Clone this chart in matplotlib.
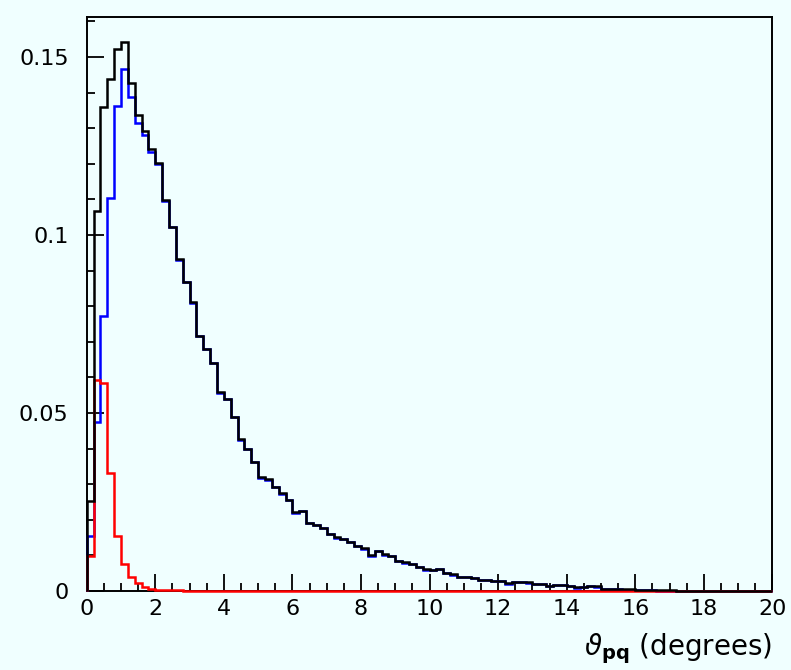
import numpy as np
import matplotlib.pyplot as plt
from matplotlib.ticker import MultipleLocator, FuncFormatter

# theta_pq histogram, 100 bins of 0.2 deg from 0 to 20
bin_edges = np.linspace(0, 20, 101)

total = [0.0254, 0.1067, 0.1360, 0.1437, 0.1522, 0.1543, 0.1426, 0.1337, 0.1293, 0.1242,
         0.1203, 0.1097, 0.1023, 0.0932, 0.0869, 0.0811, 0.0717, 0.0680, 0.0640, 0.0558,
         0.0540, 0.0489, 0.0426, 0.0399, 0.0363, 0.0319, 0.0314, 0.0293, 0.0274, 0.0256,
         0.0221, 0.0225, 0.0192, 0.0185, 0.0178, 0.0160, 0.0151, 0.0147, 0.0139, 0.0127,
         0.0120, 0.0100, 0.0113, 0.0103, 0.0099, 0.0085, 0.0081, 0.0076, 0.0068, 0.0061,
         0.0059, 0.0062, 0.0051, 0.0047, 0.0040, 0.0039, 0.0037, 0.0032, 0.0031, 0.0028,
         0.0028, 0.0022, 0.0025, 0.0026, 0.0024, 0.0021, 0.0020, 0.0014, 0.0018, 0.0017,
         0.0014, 0.0010, 0.0012, 0.0014, 0.0013, 0.0007, 0.0006, 0.0006, 0.0005, 0.0005,
         0.0004, 0.0003, 0.0003, 0.0002, 0.0002, 0.0002, 0.0001, 0.0001, 0.0001, 0.0001,
         0.0001, 0.0001, 0.0000, 0.0001, 0.0000, 0.0000, 0.0001, 0.0000, 0.0000, 0.0000]

blue = [0.0155, 0.0474, 0.0773, 0.1103, 0.1362, 0.1467, 0.1386, 0.1314, 0.1281, 0.1234,
        0.1200, 0.1094, 0.1021, 0.0930, 0.0868, 0.0810, 0.0716, 0.0679, 0.0639, 0.0557,
        0.0539, 0.0488, 0.0425, 0.0398, 0.0362, 0.0318, 0.0313, 0.0292, 0.0273, 0.0255,
        0.0220, 0.0224, 0.0191, 0.0184, 0.0177, 0.0159, 0.0150, 0.0146, 0.0138, 0.0126,
        0.0119, 0.0099, 0.0112, 0.0102, 0.0098, 0.0084, 0.0080, 0.0075, 0.0067, 0.0060,
        0.0058, 0.0061, 0.0050, 0.0046, 0.0039, 0.0038, 0.0036, 0.0031, 0.0030, 0.0027,
        0.0027, 0.0021, 0.0024, 0.0025, 0.0023, 0.0020, 0.0019, 0.0013, 0.0017, 0.0016,
        0.0013, 0.0009, 0.0011, 0.0013, 0.0012, 0.0006, 0.0005, 0.0005, 0.0004, 0.0004,
        0.0003, 0.0002, 0.0002, 0.0001, 0.0001, 0.0001, 0.0000, 0.0000, 0.0000, 0.0000,
        0.0000, 0.0000, 0.0000, 0.0000, 0.0000, 0.0000, 0.0000, 0.0000, 0.0000, 0.0000]

red = [0.0098, 0.0593, 0.0585, 0.0332, 0.0155, 0.0075, 0.0040, 0.0022, 0.0010, 0.0006,
       0.0003, 0.0003, 0.0002, 0.0002, 0.0001, 0.0001, 0.0001, 0.0001] + [0.0] * 82

bg = '#f0ffff'
fig = plt.figure(figsize=(7.91, 6.70), dpi=100, facecolor=bg)
ax = fig.add_axes([0.1096, 0.1179, 0.8670, 0.8567], facecolor=bg)

ax.stairs(blue, bin_edges, color='#0000ff', lw=1.8, zorder=3, clip_on=False)
ax.stairs(red, bin_edges, color='#ff0000', lw=1.8, zorder=3.1, clip_on=False)
ax.stairs(total, bin_edges, color='black', lw=1.8, zorder=3.2, clip_on=False)

ax.set_xlim(0, 20)
ax.set_ylim(0, 0.1612)

ax.xaxis.set_major_locator(MultipleLocator(2))
ax.xaxis.set_minor_locator(MultipleLocator(0.5))
ax.yaxis.set_major_locator(MultipleLocator(0.05))
ax.yaxis.set_minor_locator(MultipleLocator(0.01))
ax.yaxis.set_major_formatter(FuncFormatter(lambda v, p: '%g' % round(v, 4)))

ax.tick_params(which='major', direction='in', length=12, width=1.3, labelsize=16,
               top=False, right=False)
ax.tick_params(axis='y', which='major', pad=13)
ax.tick_params(axis='x', which='major', pad=6)
ax.tick_params(which='minor', direction='in', length=6, width=1.3, top=False, right=False)
for s in ax.spines.values():
    s.set_linewidth(1.4)

ax.set_xlabel(r'$\vartheta_{\mathbf{pq}}$ (degrees)', fontsize=20, loc='right', labelpad=9)

fig.savefig('out.png', dpi=100, facecolor=bg)
